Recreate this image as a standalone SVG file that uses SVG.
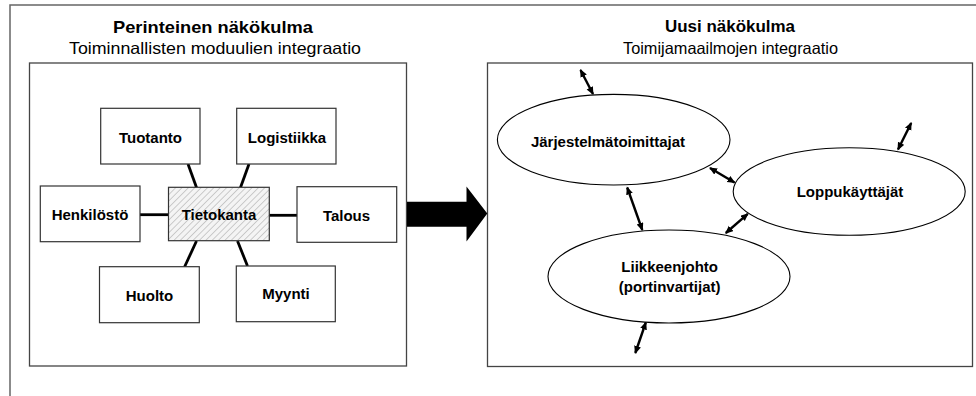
<svg xmlns="http://www.w3.org/2000/svg" width="976" height="396" viewBox="0 0 976 396">
  <style>
    .frame { fill: none; stroke: #666; stroke-width: 1.5; }
    .panel { fill: #fff; stroke: #444; stroke-width: 1.3; }
    .box { fill: #fff; stroke: #333; stroke-width: 1.2; }
    .db { fill: url(#hatch); stroke: #333; stroke-width: 1.2; }
    .oval { fill: #fff; stroke: #000; stroke-width: 1.1; }
    .title { font-family: "Liberation Sans", Arial, sans-serif; font-size: 17px; font-weight: bold; fill: #000; text-anchor: middle; }
    .sub { font-family: "Liberation Sans", Arial, sans-serif; font-size: 16.5px; fill: #000; text-anchor: middle; }
    .lbl { font-family: "Liberation Sans", Arial, sans-serif; font-size: 15px; font-weight: bold; fill: #000; text-anchor: middle; }
    .link { stroke: #000; stroke-width: 2.8; fill: none; }
    .flow { stroke: #000; stroke-width: 2.4; fill: none; marker-start: url(#head); marker-end: url(#head); }
  </style>
  <defs>
    <pattern id="hatch" patternUnits="userSpaceOnUse" width="4.5" height="10" patternTransform="rotate(45)">
      <rect width="4.5" height="10" fill="#f4f4f4"/>
      <line x1="0" y1="0" x2="0" y2="10" stroke="#a8a8a8" stroke-width="1.1"/>
    </pattern>
    <marker id="head" markerUnits="userSpaceOnUse" markerWidth="10" markerHeight="8" refX="7" refY="3.5" orient="auto-start-reverse">
      <path d="M0,0 L8,3.5 L0,7 z" fill="#000"/>
    </marker>
  </defs>

  <!-- page frame -->
  <rect class="frame" x="10" y="5" width="1000" height="500"/>

  <!-- headings -->
  <text class="title" x="213" y="32.5" textLength="200" lengthAdjust="spacingAndGlyphs">Perinteinen näkökulma</text>
  <text class="sub" x="215" y="54" textLength="292" lengthAdjust="spacingAndGlyphs">Toiminnallisten moduulien integraatio</text>
  <text class="title" x="730" y="32" textLength="130" lengthAdjust="spacingAndGlyphs">Uusi näkökulma</text>
  <text class="sub" x="730.5" y="53.5" textLength="215" lengthAdjust="spacingAndGlyphs">Toimijamaailmojen integraatio</text>

  <!-- panels -->
  <rect id="panel-left" class="panel" x="29.5" y="63" width="377" height="303"/>
  <rect id="panel-right" class="panel" x="487.5" y="63" width="485" height="303.5"/>

  <!-- transition arrow -->
  <path id="big-arrow" d="M407,201.7 L466.5,201.7 L466.5,186.5 L487.3,213.5 L466.5,241.5 L466.5,226.7 L407,226.7 z" fill="#000"/>

  <!-- module links -->
  <g id="connectors">
    <line class="link" x1="188" y1="164" x2="196.5" y2="187.5"/>
    <line class="link" x1="249" y1="164" x2="240.5" y2="187.5"/>
    <line class="link" x1="140" y1="214.7" x2="168.5" y2="214.7"/>
    <line class="link" x1="269" y1="215.3" x2="297" y2="215.3"/>
    <line class="link" x1="196.5" y1="241" x2="184.5" y2="267"/>
    <line class="link" x1="237.5" y1="241" x2="247.5" y2="266"/>

    <line class="flow" x1="580.5" y1="70" x2="593" y2="94"/>
    <line class="flow" x1="911.2" y1="123" x2="898" y2="149.5"/>
    <line class="flow" x1="710" y1="168" x2="734.5" y2="182.5"/>
    <line class="flow" x1="627.2" y1="187.5" x2="642.3" y2="230"/>
    <line class="flow" x1="747.8" y1="213.8" x2="725.8" y2="233"/>
    <line class="flow" x1="645.8" y1="322.5" x2="635.3" y2="353"/>
  </g>

  <!-- functional modules -->
  <g id="tuotanto">
    <rect class="box" x="100.7" y="108.3" width="99.3" height="55.7"/>
    <text class="lbl" x="150.5" y="142.5">Tuotanto</text>
  </g>
  <g id="logistiikka">
    <rect class="box" x="236.7" y="108.3" width="99.3" height="55.7"/>
    <text class="lbl" x="287" y="142.5">Logistiikka</text>
  </g>
  <g id="henkilosto">
    <rect class="box" x="40.3" y="186" width="99.7" height="55.7"/>
    <text class="lbl" x="90" y="220">Henkilöstö</text>
  </g>
  <g id="tietokanta">
    <rect class="db" x="168.5" y="187.3" width="100.8" height="53.4"/>
    <text class="lbl" x="219" y="220">Tietokanta</text>
  </g>
  <g id="talous">
    <rect class="box" x="297" y="186.7" width="99.7" height="55.6"/>
    <text class="lbl" x="346.5" y="220.5">Talous</text>
  </g>
  <g id="huolto">
    <rect class="box" x="99.5" y="266.7" width="99.8" height="56"/>
    <text class="lbl" x="149.5" y="300.5">Huolto</text>
  </g>
  <g id="myynti">
    <rect class="box" x="236.3" y="266" width="99" height="55.7"/>
    <text class="lbl" x="286" y="299.3">Myynti</text>
  </g>

  <!-- actor worlds -->
  <g id="jarjestelmatoimittajat">
    <ellipse class="oval" cx="613.7" cy="139.7" rx="116.3" ry="45.3"/>
    <text class="lbl" x="608" y="147.3">Järjestelmätoimittajat</text>
  </g>
  <g id="loppukayttajat">
    <ellipse class="oval" cx="849.2" cy="191.5" rx="116" ry="43.7"/>
    <text class="lbl" x="850" y="197.3">Loppukäyttäjät</text>
  </g>
  <g id="liikkeenjohto">
    <ellipse class="oval" cx="669" cy="276.5" rx="121" ry="46.5"/>
    <text class="lbl" x="669.7" y="271.7">Liikkeenjohto</text>
    <text class="lbl" x="669.7" y="291.5">(portinvartijat)</text>
  </g>
</svg>
